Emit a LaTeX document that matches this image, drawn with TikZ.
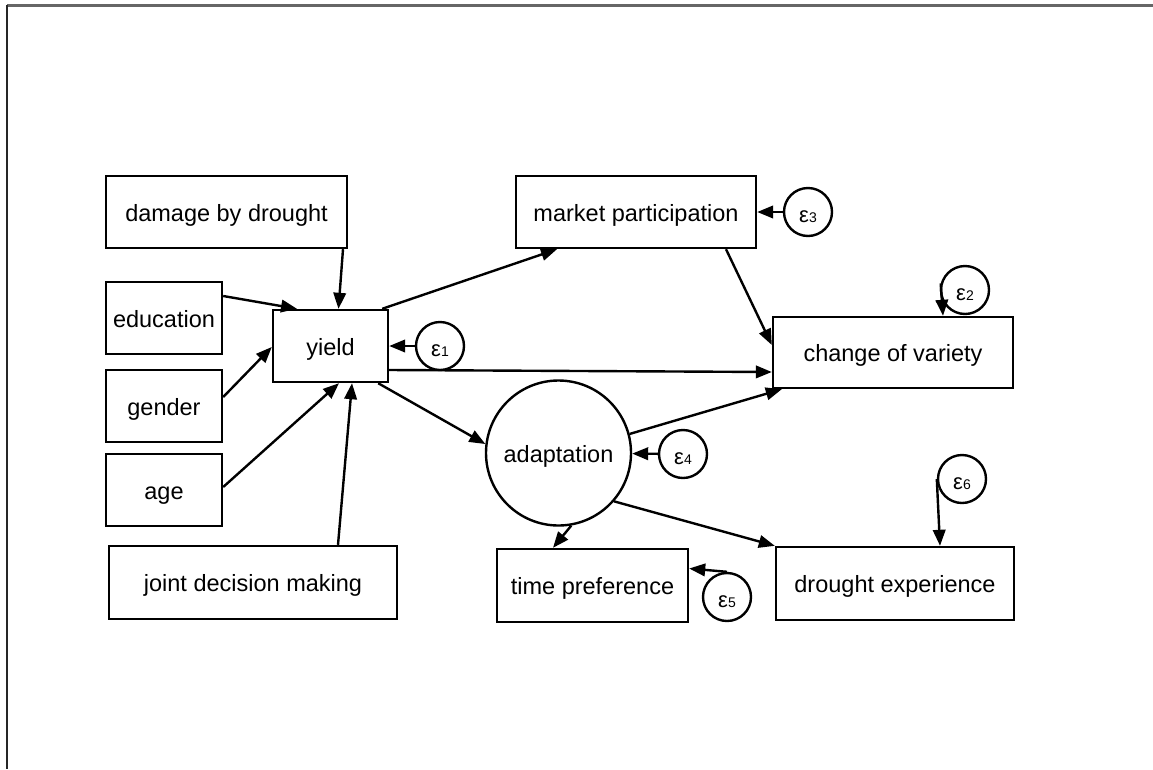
\documentclass[tikz,border=0pt]{standalone}
\usepackage{fontspec}
\setmainfont{Liberation Sans}
\usetikzlibrary{arrows.meta,calc}

\begin{document}
\begin{tikzpicture}[x=1pt,y=-1pt,
  every node/.style={font=\fontsize{23.5}{28}\selectfont},
  var/.style={draw,line width=2.4pt,rectangle,inner sep=0pt,minimum height=72pt,
              text height=18pt,text depth=0pt},
  lat/.style={draw,line width=2.4pt,circle,inner sep=0pt,minimum size=145pt,
              text height=18pt,text depth=0pt},
  err/.style={draw,line width=2.4pt,circle,inner sep=0pt,minimum size=48pt,
              text height=21pt,text depth=0pt},
  path/.style={line width=2.4pt,-{Triangle[length=16pt,width=12.5pt]}}
]
\newcommand{\eps}[1]{{\fontsize{22}{22}\selectfont ε}{\fontsize{14}{14}\selectfont #1}}

% canvas and frame
\useasboundingbox (0,0) rectangle (1153,769);
\fill[white] (0,0) rectangle (1153,769);
\draw[line width=2.2pt,black!60] (7,5.5) -- (1153,5.5);
\draw[line width=2.2pt,black!85] (7.3,4.5) -- (7.3,769);

% observed variables
\node[var,minimum width=241pt] (dmg)   at (226.5,212) {damage by drought};
\node[var,minimum width=116pt] (edu)   at (164,318)   {education};
\node[var,minimum width=116pt] (gen)   at (164,406)   {gender};
\node[var,minimum width=116pt] (age)   at (164,490)   {age};
\node[var,minimum width=288pt,minimum height=73pt] (joint) at (253,582.5) {joint decision making};
\node[var,minimum width=115pt] (yield) at (330.5,346) {yield};
\node[var,minimum width=240pt] (mkt)   at (636,212)   {market participation};
\node[var,minimum width=240pt,minimum height=71pt] (cov) at (893,352.5) {change of variety};
\node[var,minimum width=191pt,minimum height=73pt] (tp)  at (592.5,585.5) {time preference};
\node[var,minimum width=238pt,minimum height=73pt] (de)  at (895,583.5) {drought experience};

% latent variable
\node[lat] (adapt) at (558.5,453) {adaptation};

% error terms
\node[err] (e1) at (440,346) {\eps{1}};
\node[err] (e2) at (965,290) {\eps{2}};
\node[err] (e3) at (808,212) {\eps{3}};
\node[err] (e4) at (683,454) {\eps{4}};
\node[err] (e5) at (727,597) {\eps{5}};
\node[err] (e6) at (962,479) {\eps{6}};

% paths into yield
\draw[path] ($(dmg.south)+(116.5,0)$) -- ($(yield.north)+(8,0)$);
\draw[path] ($(edu.east)+(0,-22)$) -- ($(yield.north)+(-33.5,0)$);
\draw[path] ($(gen.east)+(0,-9)$) -- ($(yield.west)+(0,1)$);
\draw[path] ($(age.east)+(0,-3)$) -- ($(yield.south)+(8.5,0)$);
\draw[path] ($(joint.north)+(85,0)$) -- ($(yield.south)+(21.5,0)$);

% paths out of yield
\draw[path] ($(yield.north east)+(-7,0)$) -- ($(mkt.south)+(-79,0)$);
\draw[path] ($(yield.east)+(0,24)$) -- ($(cov.west)+(0,19.5)$);
\draw[path] ($(yield.south east)+(-11,0)$) -- (adapt.173);

% paths into change of variety
\draw[path] ($(mkt.south)+(90,0)$) -- ($(cov.west)+(0,-7.5)$);
\draw[path] (adapt.15) -- ($(cov.south west)+(10,0)$);

% paths out of adaptation
\draw[path] (adapt.280) -- ($(tp.north)+(-39.5,0)$);
\draw[path] (adapt.-41) -- (de.north west);

% error paths
\draw[path] (e1) -- (yield);
\draw[path] (e3) -- (mkt);
\draw[path] (e4) -- (adapt);
\draw[path] (e2.165) -- ($(cov.north)+(50,0)$);
\draw[path] (e5.north) -- ($(tp.east)+(0,-17)$);
\draw[path] (e6.180) -- ($(de.north)+(45,0)$);
\end{tikzpicture}
\end{document}
